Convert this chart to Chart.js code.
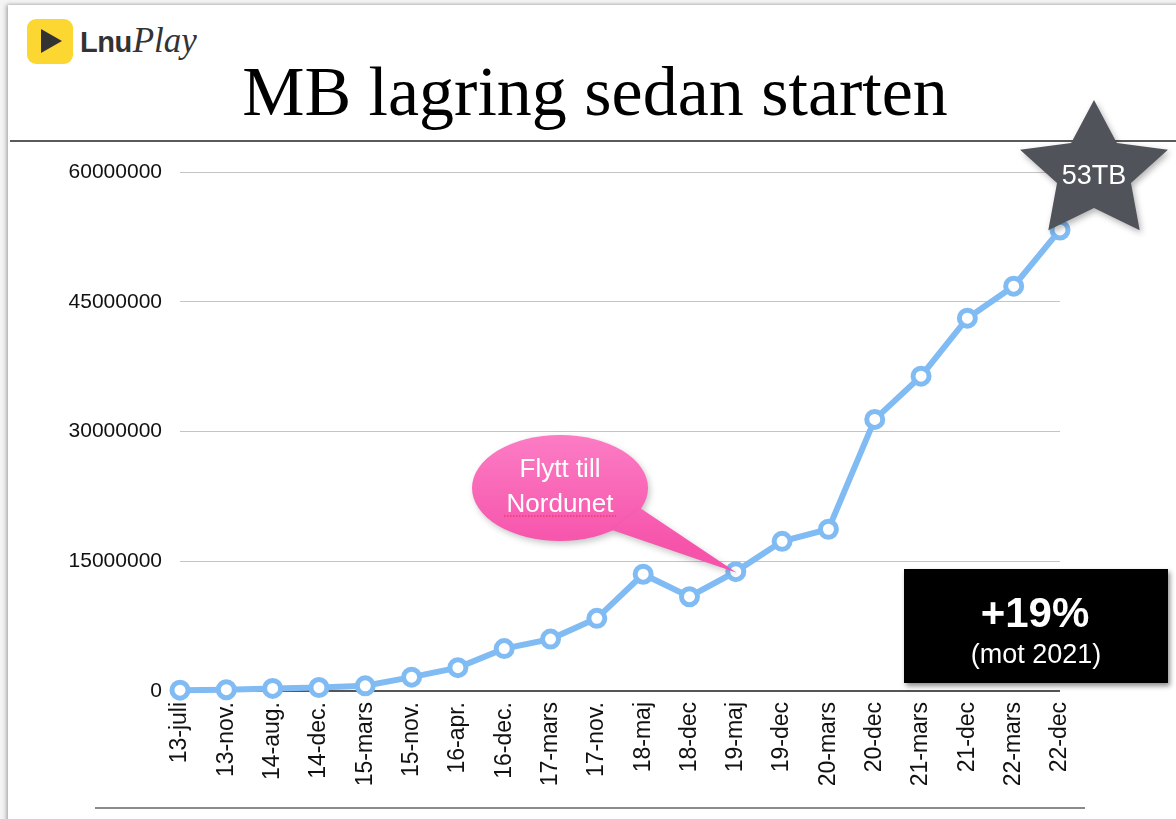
<!DOCTYPE html>
<html>
<head>
<meta charset="utf-8">
<script src="https://cdn.jsdelivr.net/npm/chart.js@4.4.1/dist/chart.umd.min.js"></script>
<style>
  html, body { margin: 0; padding: 0; background: #f4f4f4; }
  #slide {
    position: absolute; left: 8px; top: 5px; width: 1180px; height: 830px;
    background: #fff; box-shadow: -2px 0 4px rgba(0,0,0,0.25), 0 -1px 3px rgba(0,0,0,0.12);
  }
  #wrap { position: absolute; left: 0; top: 0; width: 1176px; height: 819px; }
  #logoBox {
    position: absolute; left: 27px; top: 19px; width: 46px; height: 45px;
    background: #fcd731; border-radius: 9px;
  }
  #logoTri {
    position: absolute; left: 14px; top: 10px; width: 0; height: 0;
    border-top: 12px solid transparent; border-bottom: 12px solid transparent;
    border-left: 21px solid #333;
  }
  #logoText { position: absolute; left: 80px; top: 21px; color: #333; white-space: nowrap; }
  #logoText .lnu { font-family: "Liberation Sans", Arial, sans-serif; font-weight: bold; font-size: 29px; letter-spacing: -0.5px; }
  #logoText .play { font-family: "Liberation Serif", serif; font-style: italic; font-size: 35px; margin-left: 1px; }
  #title {
    position: absolute; left: 0; width: 1190px; top: 52px; text-align: center;
    font-family: "Liberation Serif", "Times New Roman", serif; font-size: 70px; color: #000;
  }
  #hr1 { position: absolute; left: 10px; top: 140px; width: 1166px; height: 2px; background: #5a5a5a; }
  #hr2 { position: absolute; left: 95px; top: 807px; width: 990px; height: 2px; background: #8a8a8a; }
</style>
</head>
<body>
<div id="slide"></div>
<div id="logoBox"><div id="logoTri"></div></div>
<div id="logoText"><span class="lnu">Lnu</span><span class="play">Play</span></div>
<div id="title">MB lagring sedan starten</div>
<div id="hr1"></div>
<div id="hr2"></div>
<div id="wrap"><canvas id="c" width="1176" height="819"></canvas></div>
<script>
const labels = ['13-juli', '13-nov.', '14-aug.', '14-dec.', '15-mars', '15-nov.', '16-apr.', '16-dec.',
  '17-mars', '17-nov.', '18-maj', '18-dec', '19-maj', '19-dec', '20-mars', '20-dec',
  '21-mars', '21-dec', '22-mars', '22-dec'];
const storageMB = [100000, 150000, 300000, 400000, 600000, 1600000, 2700000, 4900000,
  6000000, 8400000, 13500000, 10900000, 13800000, 17300000, 18700000, 31400000,
  36400000, 43100000, 46800000, 53300000];
const yTicks = [0, 15000000, 30000000, 45000000, 60000000];

const annotations = {
  id: 'annotations',
  afterDraw(chart) {
    const ctx = chart.ctx;
    const meta = chart.getDatasetMeta(0);
    const tip = meta.data[12];

    // pink speech bubble "Flytt till Nordunet"
    ctx.save();
    ctx.shadowColor = 'rgba(0,0,0,0.22)';
    ctx.shadowBlur = 6;
    ctx.shadowOffsetX = 2;
    ctx.shadowOffsetY = 3;
    const g = ctx.createLinearGradient(0, 435, 0, 545);
    g.addColorStop(0, '#fc7cc4');
    g.addColorStop(1, '#f654ab');
    ctx.fillStyle = g;
    ctx.beginPath();
    ctx.ellipse(560, 488, 88, 53, 0, 0, Math.PI * 2);
    ctx.fill();
    ctx.beginPath();
    ctx.moveTo(612, 530);
    ctx.lineTo(tip.x + 1, tip.y + 1);
    ctx.lineTo(640, 508);
    ctx.closePath();
    ctx.fill();
    ctx.restore();
    ctx.save();
    ctx.fillStyle = '#fff';
    ctx.font = '26px "Liberation Sans", Arial, sans-serif';
    ctx.textAlign = 'center';
    ctx.textBaseline = 'alphabetic';
    ctx.fillText('Flytt till', 560, 477);
    ctx.fillText('Nordunet', 560, 512);
    ctx.strokeStyle = '#e0303a';
    ctx.lineWidth = 1;
    ctx.setLineDash([1.5, 1.5]);
    ctx.beginPath();
    ctx.moveTo(504, 516);
    ctx.lineTo(616, 516);
    ctx.stroke();
    ctx.restore();

    // dark star "53TB"
    ctx.save();
    ctx.shadowColor = 'rgba(0,0,0,0.3)';
    ctx.shadowBlur = 6;
    ctx.shadowOffsetX = 2;
    ctx.shadowOffsetY = 3;
    ctx.fillStyle = '#50545a';
    const cx = 1094, cy = 172, R = 72, r = 36;
    ctx.beginPath();
    for (let i = 0; i < 10; i++) {
      const a = -Math.PI / 2 + i * Math.PI / 5;
      const rad = i % 2 === 0 ? R : r;
      const px = cx + Math.cos(a) * rad * 1.08;
      const py = cy + Math.sin(a) * rad;
      if (i === 0) ctx.moveTo(px, py); else ctx.lineTo(px, py);
    }
    ctx.closePath();
    ctx.fill();
    ctx.restore();
    ctx.save();
    ctx.fillStyle = '#fff';
    ctx.font = '27px "Liberation Sans", Arial, sans-serif';
    ctx.textAlign = 'center';
    ctx.fillText('53TB', 1094, 184);
    ctx.restore();

    // black box "+19%"
    ctx.save();
    ctx.shadowColor = 'rgba(0,0,0,0.45)';
    ctx.shadowBlur = 5;
    ctx.shadowOffsetX = 2;
    ctx.shadowOffsetY = 3;
    ctx.fillStyle = '#000';
    ctx.fillRect(904, 569, 264, 114);
    ctx.restore();
    ctx.save();
    ctx.fillStyle = '#fff';
    ctx.textAlign = 'center';
    ctx.font = 'bold 42px "Liberation Sans", Arial, sans-serif';
    ctx.fillText('+19%', 1035, 627);
    ctx.font = '27px "Liberation Sans", Arial, sans-serif';
    ctx.fillText('(mot 2021)', 1036, 663);
    ctx.restore();
  }
};

new Chart(document.getElementById('c'), {
  type: 'line',
  data: {
    labels: labels,
    datasets: [{
      data: storageMB,
      borderColor: '#80bcf3',
      borderWidth: 6,
      pointRadius: 8,
      pointBorderWidth: 5,
      pointBackgroundColor: '#fff',
      pointBorderColor: '#80bcf3',
      tension: 0,
      clip: false
    }]
  },
  options: {
    responsive: false,
    animation: false,
    layout: { padding: { left: 0, right: 116, top: 172, bottom: 0 } },
    plugins: { legend: { display: false }, tooltip: { enabled: false } },
    scales: {
      x: {
        offset: false,
        grid: { display: false, drawTicks: false },
        border: { display: false },
        ticks: {
          minRotation: 90, maxRotation: 90, padding: 11, autoSkip: false,
          color: '#111',
          font: { family: '"Liberation Sans", Arial, sans-serif', size: 23 }
        },
        afterFit(scale) { scale.height = 128; }
      },
      y: {
        min: 0, max: 60000000,
        afterBuildTicks(scale) { scale.ticks = yTicks.map(v => ({ value: v })); },
        grid: {
          drawTicks: false,
          color: ctx => ctx.tick && ctx.tick.value === 0 ? '#555' : '#c4c4c4',
          lineWidth: ctx => ctx.tick && ctx.tick.value === 0 ? 2 : 1
        },
        border: { display: false },
        ticks: {
          padding: 18,
          color: '#111',
          font: { family: '"Liberation Sans", Arial, sans-serif', size: 21 },
          callback: v => String(v)
        },
        afterFit(scale) { scale.width = 180; }
      }
    }
  },
  plugins: [annotations]
});
</script>
</body>
</html>
